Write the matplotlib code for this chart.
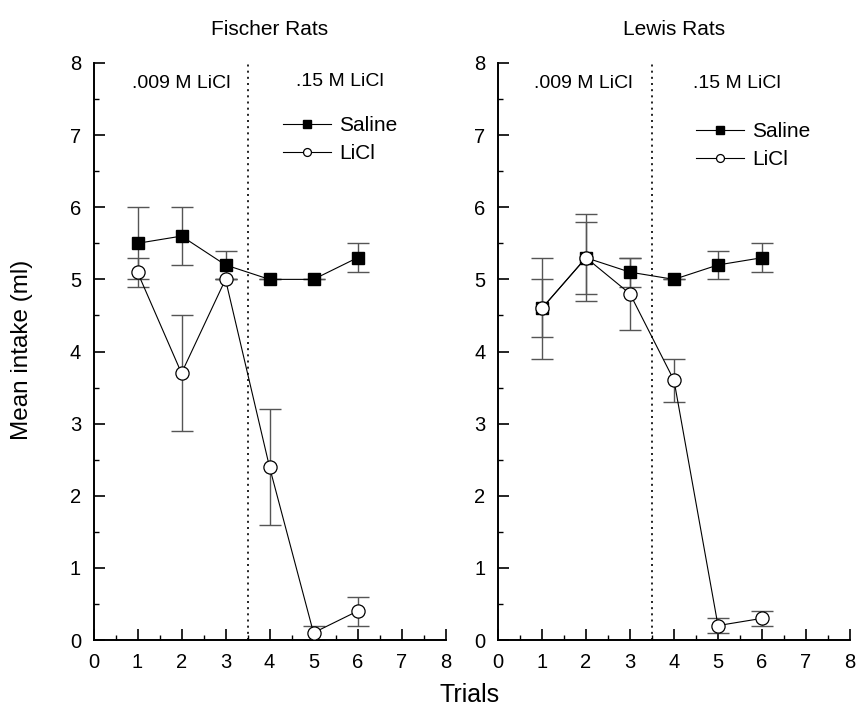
import matplotlib
matplotlib.use("Agg")
import matplotlib.pyplot as plt
from matplotlib.ticker import MultipleLocator

plt.rcParams['font.family'] = ['Liberation Sans', 'DejaVu Sans']

trials = [1, 2, 3, 4, 5, 6]

# Fischer rats
f_saline = [5.5, 5.6, 5.2, 5.0, 5.0, 5.3]
f_saline_err = [0.5, 0.4, 0.2, 0.0, 0.0, 0.2]
f_licl = [5.1, 3.7, 5.0, 2.4, 0.1, 0.4]
f_licl_err = [0.2, 0.8, 0.0, 0.8, 0.1, 0.2]

# Lewis rats
l_saline = [4.6, 5.3, 5.1, 5.0, 5.2, 5.3]
l_saline_err = [0.7, 0.6, 0.2, 0.0, 0.2, 0.2]
l_licl = [4.6, 5.3, 4.8, 3.6, 0.2, 0.3]
l_licl_err = [0.4, 0.5, 0.5, 0.3, 0.1, 0.1]

titles = ["Fischer Rats", "Lewis Rats"]
conc_labels = [".009 M LiCl", ".15 M LiCl"]

fig = plt.figure(figsize=(8.57, 7.19), dpi=100)
ax1 = fig.add_axes([93.5/857, 79/719, 352/857, 577/719])
ax2 = fig.add_axes([498/857, 79/719, 352/857, 577/719])

panels = [
    (ax1, f_saline, f_saline_err, f_licl, f_licl_err, titles[0],
     [(2.0, 7.72), (5.6, 7.74)], (0.538, 0.908)),
    (ax2, l_saline, l_saline_err, l_licl, l_licl_err, titles[1],
     [(1.93, 7.72), (5.43, 7.72)], (0.5625, 0.898)),
]

for ax, s, se, li, le, title, txtpos, legpos in panels:
    ax.axvline(3.5, color='black', linestyle=(0, (1.2, 2.5)), linewidth=1.2, zorder=1)
    ax.errorbar(trials, s, yerr=se, fmt='none', ecolor='#555555', elinewidth=1.0,
                capsize=8, capthick=1.0, zorder=2)
    ax.errorbar(trials, li, yerr=le, fmt='none', ecolor='#555555', elinewidth=1.0,
                capsize=8, capthick=1.0, zorder=2)
    ax.plot(trials, s, color='black', linewidth=0.8, marker='s', markersize=8.5,
            markerfacecolor='black', markeredgecolor='black', label='Saline', zorder=3)
    ax.plot(trials, li, color='black', linewidth=0.8, marker='o', markersize=9.5,
            markerfacecolor='white', markeredgecolor='black', markeredgewidth=0.9,
            label='LiCl', zorder=4)
    ax.set_xlim(0, 8)
    ax.set_ylim(0, 8)
    ax.xaxis.set_major_locator(MultipleLocator(1))
    ax.xaxis.set_minor_locator(MultipleLocator(0.5))
    ax.yaxis.set_major_locator(MultipleLocator(1))
    ax.yaxis.set_minor_locator(MultipleLocator(0.5))
    ax.tick_params(which='major', direction='in', length=8, width=1.2,
                   labelsize=14.5, pad=9)
    ax.tick_params(which='minor', direction='in', length=3.5, width=1.0)
    for sp in ['top', 'right']:
        ax.spines[sp].set_visible(False)
    for sp in ['left', 'bottom']:
        ax.spines[sp].set_linewidth(1.4)
    ax.set_title(title, fontsize=15, pad=20)
    for (tx, ty), lab in zip(txtpos, conc_labels):
        ax.text(tx, ty, lab, ha='center', va='center', fontsize=14)
    ax.legend(loc='upper left', bbox_to_anchor=legpos, frameon=False, fontsize=15,
              borderaxespad=0, borderpad=0, handlelength=2.3, handletextpad=0.4,
              labelspacing=0.45, markerscale=0.6)

fig.text(22/857, 1 - 350/719, "Mean intake (ml)", rotation=90, ha='center',
         va='center', fontsize=17.5)
fig.text(470/857, 1 - 695/719, "Trials", ha='center', va='center', fontsize=18)

fig.savefig("out.png", dpi=100)
